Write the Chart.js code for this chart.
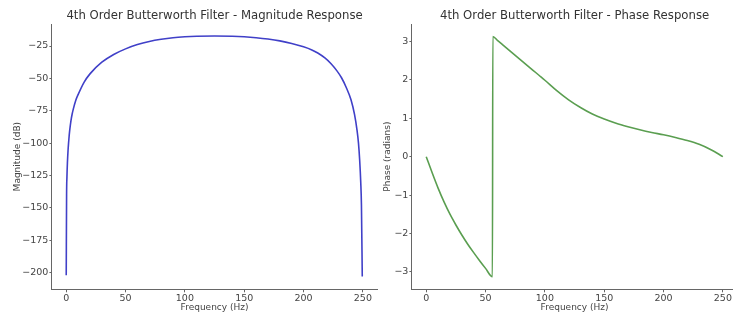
<!DOCTYPE html>
<html>
<head>
<meta charset="utf-8">
<script src="https://cdn.jsdelivr.net/npm/chart.js@4"></script>
<style>
  html, body { margin: 0; padding: 0; background: #fff; overflow: hidden; width: 733px; height: 314px; }
  canvas { position: absolute; top: 0; }
  #c1 { left: 0px; }
  #c2 { left: 360px; }
</style>
</head>
<body>
<canvas id="c1" width="380" height="314"></canvas>
<canvas id="c2" width="380" height="314"></canvas>
<script>
// ---- data ----
const magFreq = [0, 0.3, 0.6, 1, 1.5, 2, 2.5, 3, 4, 5, 6, 8, 10, 15, 20, 30, 40, 50, 60, 70, 80, 90, 100, 110, 125, 140, 150, 160, 170, 180, 190, 200, 207, 212, 218, 223, 228, 232, 236, 240, 243, 245, 246.3, 247.3, 248.2, 248.8, 249.5];
const magDb   = [-202, -140, -126, -115, -106, -99.5, -94, -89.5, -82.5, -77.5, -73.5, -67, -62.5, -53, -46.5, -37.5, -31.5, -27.2, -23.9, -21.5, -19.8, -18.6, -17.9, -17.5, -17.3, -17.5, -17.9, -18.6, -19.6, -21, -23, -25.6, -28, -30.4, -34.2, -38.5, -44, -49.5, -57, -66.5, -78, -89.5, -100, -113, -130, -148, -203];

const phaseFreq = [0, 5, 10, 15, 20, 25, 30, 35, 40, 45, 50, 55.8, 56.1, 60, 65, 70, 75, 80, 85, 90, 95, 100, 110, 120, 130, 140, 150, 160, 170, 180, 190, 200, 210, 220, 230, 240, 250];
const phaseRad  = [0, -0.42, -0.82, -1.18, -1.5, -1.78, -2.04, -2.28, -2.5, -2.71, -2.91, -3.13, 3.13, 3.03, 2.9, 2.77, 2.64, 2.51, 2.38, 2.25, 2.12, 1.99, 1.72, 1.48, 1.28, 1.11, 0.98, 0.87, 0.78, 0.7, 0.63, 0.57, 0.5, 0.42, 0.32, 0.18, 0.0];

const freqTicks  = [0, 50, 100, 150, 200, 250];
const magTicks   = [-200, -175, -150, -125, -100, -75, -50, -25];
const phaseTicks = [-3, -2, -1, 0, 1, 2, 3];

const titles = ['4th Order Butterworth Filter - Magnitude Response', '4th Order Butterworth Filter - Phase Response'];
const xLabel = 'Frequency (Hz)';
const yLabels = ['Magnitude (dB)', 'Phase (radians)'];

// ---- styling ----
Chart.defaults.font.family = "'DejaVu Sans', sans-serif";
Chart.defaults.color = '#444';
const axisColor = '#666';
const fmt = v => (v < 0 ? '\u2212' + Math.abs(v) : String(v));

function makeChart(id, xs, ys, color, title, yLabel, yMin, yMax, yTicks, yTitlePad) {
  const pts = xs.map((x, i) => ({ x: x, y: ys[i] }));
  return new Chart(document.getElementById(id), {
    type: 'line',
    data: { datasets: [{ data: pts, borderColor: color, borderWidth: 1.6, pointRadius: 0, fill: false, cubicInterpolationMode: 'monotone' }] },
    options: {
      responsive: false, animation: false, devicePixelRatio: 1,
      layout: { padding: { left: 0, right: 2.3, top: 0, bottom: 0 } },
      plugins: { legend: { display: false }, tooltip: { enabled: false }, title: { display: false } },
      scales: {
        xTop: {
          type: 'linear', axis: 'x', position: 'top', min: -12.5, max: 262.5,
          afterFit: s => { s.height = 24; },
          grid: { display: false }, border: { display: false },
          ticks: { display: false },
          title: { display: true, text: title, color: '#333', font: { size: 11.7 }, padding: { top: 8.6, bottom: 0 } }
        },
        x: {
          type: 'linear', min: -12.5, max: 262.5,
          afterBuildTicks: s => { s.ticks = freqTicks.map(v => ({ value: v })); },
          afterFit: s => { s.height = 24.7; },
          grid: { display: true, drawOnChartArea: false, drawTicks: true, tickLength: 3, color: axisColor },
          border: { display: true, color: axisColor, width: 1 },
          ticks: { font: { size: 9.5 }, padding: 1, maxRotation: 0, callback: v => fmt(v) },
          title: { display: true, text: xLabel, font: { size: 9 }, padding: { top: 0, bottom: 1.0 } }
        },
        y: {
          type: 'linear', min: yMin, max: yMax,
          afterBuildTicks: s => { s.ticks = yTicks.map(v => ({ value: v })); },
          afterFit: s => { s.width = 51.4; },
          grid: { display: true, drawOnChartArea: false, drawTicks: true, tickLength: 2, color: axisColor },
          border: { display: true, color: axisColor, width: 1 },
          ticks: { font: { size: 9.5 }, padding: 1, callback: v => fmt(v) },
          title: { display: true, text: yLabel, font: { size: 9 }, padding: { top: yTitlePad, bottom: 0 } }
        }
      }
    }
  });
}

makeChart('c1', magFreq, magDb, '#4040c8', titles[0], yLabels[0], -212.8, -8.0, magTicks, 12.1);
makeChart('c2', phaseFreq, phaseRad, '#5a9e50', titles[1], yLabels[1], -3.455, 3.455, phaseTicks, 22.6);
</script>
</body>
</html>
